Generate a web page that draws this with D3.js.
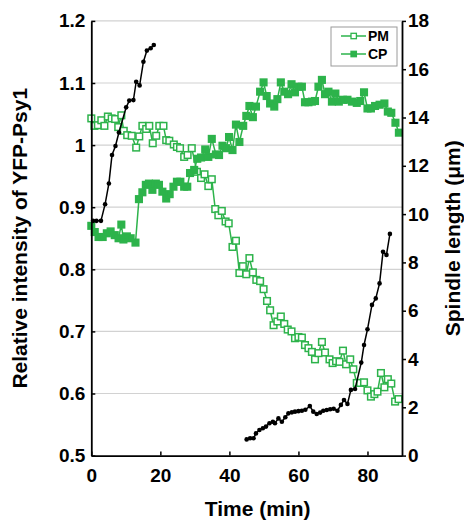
<!DOCTYPE html>
<html>
<head>
<meta charset="utf-8">
<script src="https://cdn.jsdelivr.net/npm/d3@7"></script>
<style>
  body { margin: 0; background: #fff; }
  svg { display: block; }
  text { font-family: "Liberation Sans", Arial, sans-serif; font-weight: bold; }
</style>
</head>
<body>
<script>
// PM (open squares), relative intensity
var pmTime = [0, 0.9, 1.9, 2.9, 3.8, 4.8, 5.9, 6.9, 7.8, 8.7, 9.4, 10.4, 11.7, 13.0, 13.9, 14.8, 15.9, 16.8, 17.8, 18.8, 19.7, 20.9, 21.7, 22.6, 23.9, 24.8, 25.7, 26.9, 27.9, 29.1,
  30.6, 31.8, 32.8, 33.9, 34.9, 35.9, 36.8, 37.8, 38.9, 39.8, 40.9, 41.9, 42.9, 43.9, 44.9, 45.8, 46.8, 47.8, 48.9, 49.9, 50.9, 51.8, 52.8, 53.9, 54.9, 55.9, 56.9, 58.0, 59.0,
  60.0, 61.0, 61.9, 62.9, 63.9, 64.8, 65.8, 66.8, 67.7, 69.0, 69.9, 70.9, 71.9, 72.9, 73.8, 75.0, 75.9, 76.9, 77.9, 79.0, 80.0, 81.0, 82.0, 82.9, 83.9, 84.9, 85.9, 86.9, 88.0, 89.0];
var pmValue = [1.043, 1.031, 1.032, 1.040, 1.031, 1.046, 1.043, 1.042, 1.029, 1.048, 1.023, 1.016, 1.015, 0.996, 1.014, 1.031, 1.026, 1.031, 1.003, 1.015, 1.031, 1.031, 1.008, 1.007, 1.001, 0.997, 0.995, 0.981, 0.984, 0.995,
  0.957, 0.947, 0.953, 0.934, 0.945, 0.897, 0.887, 0.894, 0.877, 0.874, 0.836, 0.846, 0.794, 0.805, 0.792, 0.818, 0.795, 0.783, 0.781, 0.768, 0.749, 0.734, 0.710, 0.716, 0.724, 0.712, 0.703, 0.700, 0.689,
  0.691, 0.690, 0.678, 0.673, 0.667, 0.655, 0.665, 0.683, 0.666, 0.655, 0.649, 0.652, 0.651, 0.669, 0.647, 0.655, 0.639, 0.617, 0.617, 0.618, 0.605, 0.595, 0.599, 0.603, 0.633, 0.610, 0.623, 0.616, 0.587, 0.591];

// CP (filled squares), relative intensity
var cpTime = [0, 1.0, 2.1, 3.3, 4.5, 5.6, 6.8, 7.9, 8.7, 9.3, 10.3, 11.4, 12.8, 13.8, 14.8, 15.8, 16.7, 17.7, 18.7, 19.6, 20.6, 21.7, 22.7, 23.8, 24.8, 25.8, 26.9, 27.8, 28.6, 29.8,
  30.7, 31.8, 33.0, 33.9, 34.9, 36.1, 37.0, 38.0, 39.0, 39.9, 40.9, 41.9, 42.9, 44.0, 44.9, 45.8, 46.8, 47.7, 48.9, 49.9, 50.8, 51.8, 53.0, 53.9, 54.9, 55.9, 57.0, 58.0, 59.0,
  60.0, 61.0, 61.9, 62.9, 63.9, 64.8, 65.8, 66.8, 67.7, 68.7, 69.7, 70.7, 71.7, 72.9, 74.2, 75.5, 76.9, 77.9, 79.0, 80.0, 81.0, 82.2, 83.5, 84.9, 85.9, 86.9, 88.1, 89.1];
var cpValue = [0.870, 0.860, 0.852, 0.852, 0.858, 0.861, 0.855, 0.850, 0.872, 0.848, 0.853, 0.850, 0.843, 0.913, 0.924, 0.936, 0.938, 0.928, 0.938, 0.936, 0.925, 0.914, 0.921, 0.933, 0.941, 0.941, 0.933, 0.933, 0.955, 0.960,
  0.978, 0.980, 0.993, 0.981, 1.010, 0.985, 0.984, 0.999, 0.995, 1.013, 0.992, 1.033, 1.005, 1.031, 1.047, 1.063, 1.045, 1.062, 1.086, 1.101, 1.079, 1.067, 1.062, 1.074, 1.101, 1.086, 1.082, 1.098, 1.085,
  1.094, 1.094, 1.069, 1.069, 1.070, 1.071, 1.094, 1.105, 1.082, 1.086, 1.070, 1.083, 1.070, 1.073, 1.073, 1.070, 1.068, 1.071, 1.085, 1.059, 1.059, 1.063, 1.065, 1.067, 1.054, 1.052, 1.036, 1.020];

// spindle length (um), two mitoses
var spA_time = [0.5, 1.5, 2.8, 4.0, 5.1, 6.0, 7.0, 8.0, 10.1, 11.0, 12.2, 13.0, 14.0, 15.1, 16.1, 17.2, 18.1];
var spA_len  = [9.72, 9.72, 9.72, 10.41, 11.27, 12.45, 12.82, 13.38, 14.42, 14.70, 14.72, 15.48, 15.33, 16.31, 16.77, 16.87, 17.00];
var spB_time = [45.0, 46.0, 47.0, 47.7, 48.7, 49.7, 50.6, 51.6, 52.6, 53.2, 54.2, 55.2, 56.2, 57.1, 58.1, 59.0, 60.0, 61.0, 62.0, 63.3, 64.3, 65.3, 66.3, 67.2, 68.2, 69.2, 70.2, 71.3,
  72.3, 73.2, 74.2, 75.2, 76.4, 78.2, 79.0, 80.0, 81.3, 82.4, 83.5, 84.5, 85.5, 86.5];
var spB_len  = [0.67, 0.72, 0.72, 0.92, 1.06, 1.13, 1.20, 1.34, 1.40, 1.34, 1.54, 1.40, 1.59, 1.75, 1.79, 1.82, 1.84, 1.86, 1.90, 2.05, 1.82, 1.72, 1.78, 1.86, 1.89, 1.92, 1.94, 1.86,
  2.10, 2.30, 2.14, 2.72, 2.76, 3.85, 4.58, 5.23, 6.24, 6.51, 7.13, 8.44, 8.31, 9.18];

var xTicks = [0, 20, 40, 60, 80];
var leftTicks = [0.5, 0.6, 0.7, 0.8, 0.9, 1.0, 1.1, 1.2];
var rightTicks = [0, 2, 4, 6, 8, 10, 12, 14, 16, 18];
var legendNames = ["PM", "CP"];

var green = "#2db34b";
var width = 464, height = 525;

var svg = d3.select("body").append("svg")
    .attr("width", width)
    .attr("height", height);

var x = d3.scaleLinear().domain([0, 90]).range([91.3, 402]);
var yL = d3.scaleLinear().domain([0.5, 1.2]).range([455.6, 20.9]);
var yR = d3.scaleLinear().domain([0, 18]).range([455.6, 20.9]);

// gridlines
svg.append("g").selectAll("line")
    .data(leftTicks.slice(1))
  .enter().append("line")
    .attr("x1", x(0)).attr("x2", x(90))
    .attr("y1", function(d) { return yL(d); })
    .attr("y2", function(d) { return yL(d); })
    .attr("stroke", "#d2d2d2")
    .attr("stroke-width", 1.2);

function zip(ts, vs) { return ts.map(function(t, i) { return [t, vs[i]]; }); }

function drawSeries(data, filled) {
  var line = d3.line().x(function(d) { return x(d[0]); }).y(function(d) { return yL(d[1]); });
  svg.append("path").datum(data)
      .attr("d", line)
      .attr("fill", "none")
      .attr("stroke", green)
      .attr("stroke-width", 1.5);
  svg.append("g").selectAll("rect")
      .data(data)
    .enter().append("rect")
      .attr("x", function(d) { return x(d[0]) - 3.3; })
      .attr("y", function(d) { return yL(d[1]) - 3.3; })
      .attr("width", 6.6).attr("height", 6.6)
      .attr("fill", filled ? green : "#fff")
      .attr("stroke", green)
      .attr("stroke-width", 1.5);
}

drawSeries(zip(pmTime, pmValue), false);
drawSeries(zip(cpTime, cpValue), true);

function drawSpindle(data) {
  var line = d3.line().x(function(d) { return x(d[0]); }).y(function(d) { return yR(d[1]); });
  svg.append("path").datum(data)
      .attr("d", line)
      .attr("fill", "none")
      .attr("stroke", "#000")
      .attr("stroke-width", 1.5);
  svg.append("g").selectAll("circle")
      .data(data)
    .enter().append("circle")
      .attr("cx", function(d) { return x(d[0]); })
      .attr("cy", function(d) { return yR(d[1]); })
      .attr("r", 2.3)
      .attr("fill", "#000");
}

drawSpindle(zip(spA_time, spA_len));
drawSpindle(zip(spB_time, spB_len));

// axes
function styleAxis(g) {
  g.select(".domain").attr("stroke", "#000").attr("stroke-width", 1.8);
  g.selectAll(".tick line").attr("stroke", "#000").attr("stroke-width", 1.5);
  g.selectAll("text").attr("font-size", 19).attr("fill", "#000")
    .attr("font-family", "'Liberation Sans', Arial, sans-serif").attr("font-weight", "bold");
}

svg.append("g")
    .attr("transform", "translate(0," + yL.range()[0] + ")")
    .call(d3.axisBottom(x).tickValues(xTicks).tickSizeInner(-4).tickSizeOuter(0).tickPadding(13))
    .call(styleAxis);

svg.append("g")
    .attr("transform", "translate(" + x.range()[0] + ",0)")
    .call(d3.axisLeft(yL).tickValues(leftTicks).tickSizeInner(-4).tickSizeOuter(0).tickPadding(6)
      .tickFormat(function(d) { return String(+d.toFixed(1)); }))
    .call(styleAxis);

svg.append("g")
    .attr("transform", "translate(" + x.range()[1] + ",0)")
    .call(d3.axisRight(yR).tickValues(rightTicks).tickSizeInner(4).tickSizeOuter(0).tickPadding(2))
    .call(styleAxis);

// axis titles
var midY = (yL.range()[0] + yL.range()[1]) / 2;
svg.append("text")
    .attr("transform", "translate(27," + midY + ") rotate(-90)")
    .attr("text-anchor", "middle")
    .attr("font-size", 21)
    .text("Relative intensity of YFP-Psy1");

svg.append("text")
    .attr("transform", "translate(460," + midY + ") rotate(-90)")
    .attr("text-anchor", "middle")
    .attr("font-size", 21)
    .text("Spindle length (\u03bcm)");

svg.append("text")
    .attr("x", (x.range()[0] + x.range()[1]) / 2 + 11)
    .attr("y", 516)
    .attr("text-anchor", "middle")
    .attr("font-size", 21)
    .text("Time (min)");

// legend
var legend = svg.append("g").attr("transform", "translate(331,27)");
legend.append("rect")
    .attr("width", 66).attr("height", 39)
    .attr("fill", "#fff")
    .attr("stroke", "#9a9a9a")
    .attr("stroke-width", 1);

var item = legend.selectAll(".item")
    .data(legendNames)
  .enter().append("g")
    .attr("transform", function(d, i) { return "translate(0," + (9 + i * 18) + ")"; });
item.append("line")
    .attr("x1", 10).attr("x2", 35)
    .attr("stroke", green).attr("stroke-width", 1.5);
item.append("rect")
    .attr("x", 20).attr("y", -2.7)
    .attr("width", 5.4).attr("height", 5.4)
    .attr("fill", function(d, i) { return i == 0 ? "#fff" : green; })
    .attr("stroke", green).attr("stroke-width", 1.3);
item.append("text")
    .attr("x", 37).attr("y", 5)
    .attr("font-size", 14)
    .text(function(d) { return d; });
</script>
</body>
</html>
